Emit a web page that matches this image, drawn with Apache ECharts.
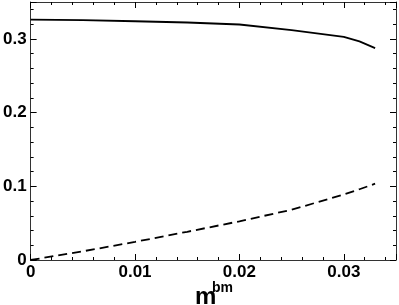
<!DOCTYPE html>
<html>
<head>
<meta charset="utf-8">
<script src="https://cdn.jsdelivr.net/npm/echarts@6/dist/echarts.min.js"></script>
<style>
html,body{margin:0;padding:0;background:#fff;}
#c{width:399px;height:305px;}
</style>
</head>
<body>
<div id="c"></div>
<script>
// Data
const xSolid = [0, 0.005, 0.01, 0.015, 0.02, 0.025, 0.03, 0.0315, 0.033];
const ySolid = [0.3262, 0.3253, 0.3239, 0.3222, 0.3195, 0.3118, 0.3028, 0.2965, 0.2875];
const xDashed = [0, 0.005, 0.01, 0.015, 0.02, 0.025, 0.03, 0.0315, 0.033];
const yDashed = [0, 0.0118, 0.0246, 0.0383, 0.0525, 0.0682, 0.0888, 0.0960, 0.1035];
const xTickLabels = ['0', '0.01', '0.02', '0.03'];
const yTickLabels = ['0', '0.1', '0.2', '0.3'];
const xAxisTitle = 'm';
const xAxisTitleSup = 'bm';

const X_MIN = 0, X_MAX = 0.035, X_MAJOR = 0.01, X_MINOR = 0.002;
const Y_MIN = 0, Y_MAX = 0.35, Y_MAJOR = 0.1, Y_MINOR = 0.02;

const font = '"Liberation Sans", Arial, Helvetica, sans-serif';
const lineCol = '#333';

function labelFmt(list, step) {
  return function (v) {
    const k = Math.round(v / step);
    if (Math.abs(v - k * step) > step * 1e-6) return '';
    return list[k] !== undefined ? list[k] : '';
  };
}

function xAx(pos, major, showLabel) {
  return {
    type: 'value', position: pos, min: X_MIN, max: X_MAX,
    interval: major ? X_MAJOR : X_MINOR,
    axisLine: { show: major, onZero: false, lineStyle: { color: lineCol, width: 1 } },
    axisTick: { show: true, inside: true, length: major ? 6 : 3, lineStyle: { color: '#000', width: 1 } },
    axisLabel: {
      show: showLabel, margin: 4, formatter: labelFmt(xTickLabels, X_MAJOR),
      color: '#000', fontFamily: font, fontWeight: 'bold', fontSize: 17
    },
    splitLine: { show: false }
  };
}
function yAx(pos, major, showLabel) {
  return {
    type: 'value', position: pos, min: Y_MIN, max: Y_MAX,
    interval: major ? Y_MAJOR : Y_MINOR,
    axisLine: { show: major, onZero: false, lineStyle: { color: lineCol, width: 1 } },
    axisTick: { show: true, inside: true, length: major ? 6 : 3, lineStyle: { color: '#000', width: 1 } },
    axisLabel: {
      show: showLabel, margin: 4, formatter: labelFmt(yTickLabels, Y_MAJOR),
      color: '#000', fontFamily: font, fontWeight: 'bold', fontSize: 17
    },
    splitLine: { show: false }
  };
}

const chart = echarts.init(document.getElementById('c'), null, { renderer: 'canvas' });
chart.setOption({
  animation: false,
  backgroundColor: '#fff',
  grid: { left: 29, right: 2, top: 2, bottom: 45, containLabel: false },
  xAxis: [xAx('bottom', true, true), xAx('bottom', false, false), xAx('top', true, false), xAx('top', false, false)],
  yAxis: [yAx('left', true, true), yAx('left', false, false), yAx('right', true, false), yAx('right', false, false)],
  series: [
    {
      type: 'line', xAxisIndex: 0, yAxisIndex: 0, symbol: 'none', smooth: false,
      data: xSolid.map((x, i) => [x, ySolid[i]]),
      lineStyle: { color: '#000', width: 1.8, type: 'solid' }
    },
    {
      type: 'line', xAxisIndex: 0, yAxisIndex: 0, symbol: 'none', smooth: false,
      data: xDashed.map((x, i) => [x, yDashed[i]]),
      lineStyle: { color: '#000', width: 1.8, type: [9, 5] }
    }
  ],
  graphic: [
    { type: 'text', left: 195, top: 285, style: { text: xAxisTitle, font: 'bold 24px ' + font, fill: '#000' } },
    { type: 'text', left: 212, top: 281, style: { text: xAxisTitleSup, font: 'bold 14px ' + font, fill: '#000' } }
  ]
});
</script>
</body>
</html>
